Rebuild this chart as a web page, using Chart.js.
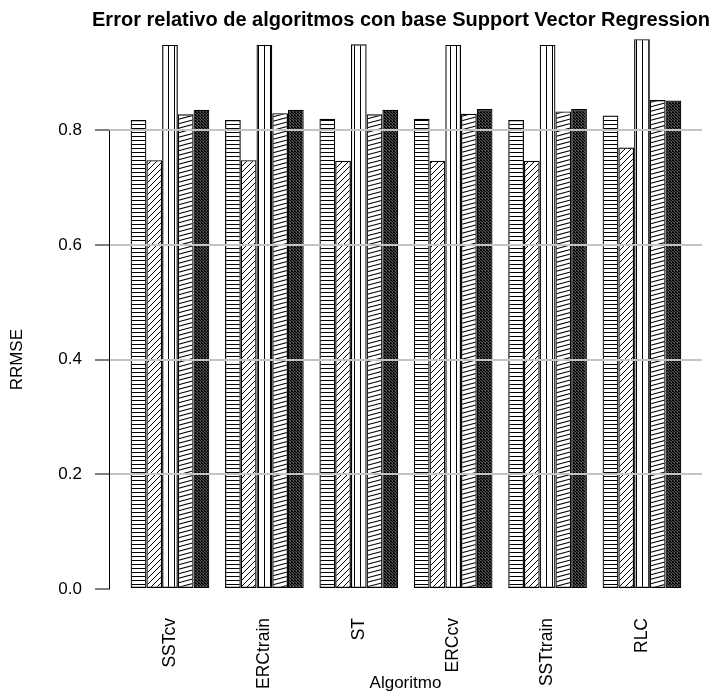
<!DOCTYPE html>
<html>
<head>
<meta charset="utf-8">
<title>Error relativo de algoritmos con base Support Vector Regression</title>
<script src="https://cdn.jsdelivr.net/npm/chart.js@4.4.1/dist/chart.umd.min.js"></script>
<style>
  html, body { margin: 0; padding: 0; background: #fff; }
  #wrap { width: 718px; height: 698px; }
</style>
</head>
<body>
<div id="wrap"><canvas id="rrmseChart" width="718" height="698"></canvas></div>
<script>
// Algoritmos (eje X)
const categorias = ['SSTcv', 'ERCtrain', 'ST', 'ERCcv', 'SSTtrain', 'RLC'];

// RRMSE, una lista por serie (una trama por serie)
const serie1 = [0.818, 0.818, 0.820, 0.820, 0.818, 0.826];
const serie2 = [0.748, 0.748, 0.747, 0.747, 0.747, 0.770];
const serie3 = [0.949, 0.949, 0.950, 0.949, 0.949, 0.959];
const serie4 = [0.828, 0.830, 0.828, 0.829, 0.833, 0.853];
const serie5 = [0.836, 0.836, 0.836, 0.837, 0.837, 0.852];

// Marcas del eje Y
const ticksY = [0.0, 0.2, 0.4, 0.6, 0.8];

const FUENTE = '"Liberation Sans", Arial, Helvetica, sans-serif';
Chart.defaults.font.family = FUENTE;
Chart.defaults.color = '#000';

const canvas = document.getElementById('rrmseChart');
const ctx = canvas.getContext('2d');

// Trama de lineas negras sobre fondo transparente
function trama(w, h, lineas, grosor) {
    const c = document.createElement('canvas');
    c.width = w;
    c.height = h;
    const g = c.getContext('2d');
    g.strokeStyle = '#000';
    g.lineWidth = grosor;
    for (let dx = -w; dx <= w; dx += w) {
        for (let dy = -h; dy <= h; dy += h) {
            lineas.forEach(([x1, y1, x2, y2]) => {
                g.beginPath();
                g.moveTo(x1 + dx, y1 + dy);
                g.lineTo(x2 + dx, y2 + dy);
                g.stroke();
            });
        }
    }
    return ctx.createPattern(c, 'repeat');
}

const tramas = [
    trama(4, 4, [[0, 0.5, 4, 0.5]], 1),                      // horizontal
    trama(6, 6, [[0, 6, 6, 0]], 1),                          // diagonal /
    trama(6, 6, [[0.5, 0, 0.5, 6]], 1),                      // vertical
    trama(34, 9, [[0, 9, 34, 0], [0, 4.5, 34, -4.5]], 1.1),  // inclinada suave
    trama(3, 3, [[0, 0, 3, 3]], 1.9)                         // diagonal densa
];

const series = [serie1, serie2, serie3, serie4, serie5];

// Eje Y (solo de 0 a 0.8), titulo y rotulo RRMSE
const textos = {
    id: 'textos',
    afterDraw(chart) {
        const { ctx, chartArea, scales: { y } } = chart;
        ctx.save();
        ctx.strokeStyle = '#000';
        ctx.lineWidth = 1;
        ctx.beginPath();
        ctx.moveTo(chartArea.left + 0.5, Math.round(y.getPixelForValue(0)) + 0.5);
        ctx.lineTo(chartArea.left + 0.5, Math.round(y.getPixelForValue(0.8)) + 0.5);
        ctx.stroke();

        ctx.fillStyle = '#000';
        ctx.textAlign = 'center';
        ctx.textBaseline = 'middle';
        ctx.font = 'bold 20px ' + FUENTE;
        ctx.fillText('Error relativo de algoritmos con base Support Vector Regression', 401, 20);

        ctx.translate(17, y.getPixelForValue(0.4));
        ctx.rotate(-Math.PI / 2);
        ctx.font = '17px ' + FUENTE;
        ctx.fillText('RRMSE', 0, 0);
        ctx.restore();
    }
};

new Chart(ctx, {
    type: 'bar',
    data: {
        datasets: series.map((serie, k) => ({
            label: 'Serie ' + (k + 1),
            data: serie.map((v, i) => ({ x: i, y: v })),
            backgroundColor: tramas[k],
            borderColor: '#000',
            borderWidth: 1.2,
            borderSkipped: false,
            categoryPercentage: 5 / 6,
            barPercentage: 1
        }))
    },
    options: {
        responsive: false,
        animation: false,
        layout: { padding: { left: 0, right: 16, top: 30, bottom: 0 } },
        plugins: {
            legend: { display: false },
            title: { display: false },
            tooltip: { enabled: false }
        },
        scales: {
            x: {
                type: 'linear',
                offset: false,
                bounds: 'data',
                min: -0.646,
                max: 5.636,
                afterBuildTicks: s => { s.ticks = categorias.map((c, i) => ({ value: i })); },
                afterFit: s => { s.height = 109; },
                grid: { display: false, offset: false },
                border: { display: false },
                ticks: {
                    autoSkip: false,
                    minRotation: 90,
                    maxRotation: 90,
                    padding: 21,
                    font: { size: 17.5 },
                    callback: v => categorias[v]
                },
                title: {
                    display: true,
                    text: 'Algoritmo',
                    font: { size: 17 },
                    padding: { top: 0, bottom: 4 }
                }
            },
            y: {
                min: 0,
                max: 0.975,
                afterBuildTicks: s => { s.ticks = ticksY.map(v => ({ value: v })); },
                afterFit: s => { s.width = 109; },
                border: { display: false },
                grid: {
                    z: 1,
                    color: c => (c.tick && c.tick.value === 0) ? 'rgba(0,0,0,0)' : '#c4c4c4',
                    lineWidth: 2,
                    tickColor: '#000',
                    tickWidth: 1,
                    tickLength: 14
                },
                ticks: {
                    padding: 13,
                    font: { size: 17 },
                    callback: v => v.toFixed(1)
                }
            }
        }
    },
    plugins: [textos]
});
</script>
</body>
</html>
